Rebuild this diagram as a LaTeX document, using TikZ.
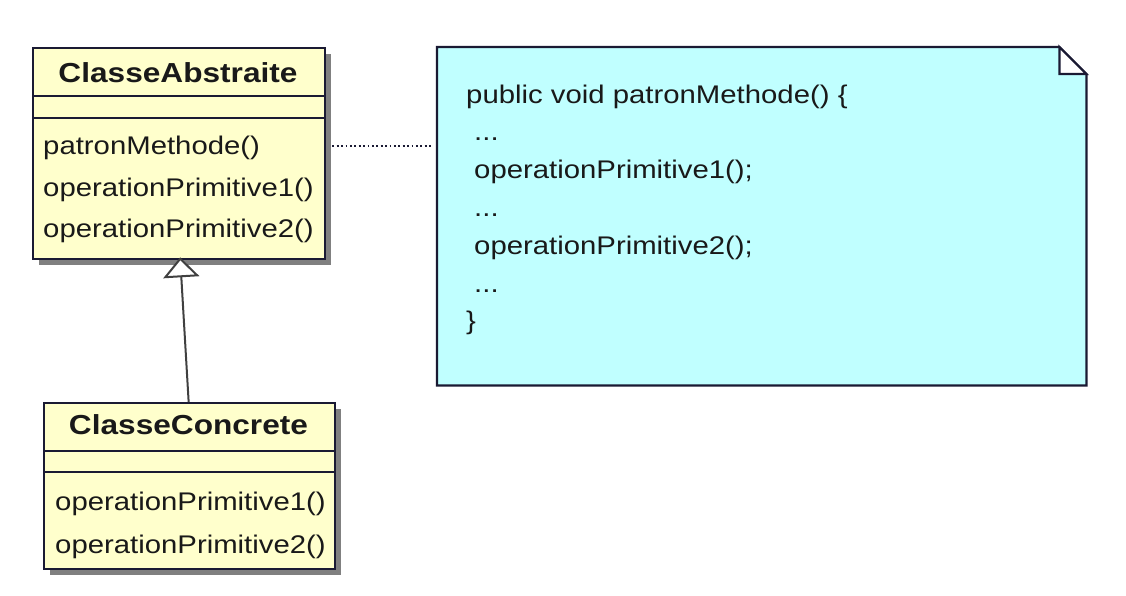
\documentclass[tikz,border=0pt]{standalone}
\usepackage{fontspec}
\setmainfont{Liberation Sans}[FakeStretch=1.15]
\usetikzlibrary{arrows.meta,shadows,calc}
\definecolor{classfill}{HTML}{FFFFCC}
\definecolor{notefill}{HTML}{C0FFFF}
\definecolor{edge}{HTML}{1A1A33}
\definecolor{shade}{HTML}{808080}
\tikzset{
  classbox/.style={draw=edge, line width=2.3pt, fill=classfill, anchor=north west, inner sep=0pt,
    drop shadow={shadow xshift=6pt, shadow yshift=-6pt, fill=shade, opacity=1}},
  divider/.style={draw=edge, line width=2.2pt},
  title/.style={anchor=base, inner sep=0pt, font=\fontsize{27.5}{30}\selectfont\bfseries, text=black!90},
  member/.style={anchor=base west, inner sep=0pt, font=\fontsize{25.5}{28}\selectfont, text=black!90},
  noteshape/.style={draw=edge, line width=2.2pt, fill=notefill},
  notelink/.style={draw=edge, line width=1.9pt, dash pattern=on 1.8pt off 2.6pt},
  genline/.style={draw=black!75, line width=2pt, -{Triangle[open, length=20pt, width=36pt, fill=white]}}
}
\begin{document}
\begin{tikzpicture}[x=1pt, y=-1pt]
\useasboundingbox (0,0) rectangle (1126,595);
% ClasseAbstraite
\node[classbox, minimum width=292pt, minimum height=211pt] (abs) at (32,47) {};
\draw[divider] (abs.west |- 0,96) -- (abs.east |- 0,96);
\draw[divider] (abs.west |- 0,118) -- (abs.east |- 0,118);
\node[title] (absT) at (178,82) {ClasseAbstraite};
\node[member] (absM1) at (43,154) {patronMethode()};
\node[member] (absM2) at (43,196) {operationPrimitive1()};
\node[member] (absM3) at (43,237) {operationPrimitive2()};
% ClasseConcrete
\node[classbox, minimum width=291pt, minimum height=166pt] (con) at (43,402) {};
\draw[divider] (con.west |- 0,451) -- (con.east |- 0,451);
\draw[divider] (con.west |- 0,472) -- (con.east |- 0,472);
\node[title] (conT) at (188.5,434) {ClasseConcrete};
\node[member] (conM1) at (55,510) {operationPrimitive1()};
\node[member] (conM2) at (55,553) {operationPrimitive2()};
% Note
\node[minimum width=649pt, minimum height=338pt, anchor=north west, inner sep=0pt] (note) at (437,47) {};
\draw[noteshape] (note.north west) -- ([xshift=-27pt]note.north east) -- ([yshift=-27pt]note.north east)
  -- (note.south east) -- (note.south west) -- cycle;
\draw[draw=edge, line width=2.2pt, fill=white] ([xshift=-27pt]note.north east) -- ([xshift=-27pt,yshift=-27pt]note.north east) -- ([yshift=-27pt]note.north east) -- cycle;
\node[member] (n1) at (466,103) {public void patronMethode() \{};
\node[member] (n2) at (474,140.8) {...};
\node[member] (n3) at (474,178.6) {operationPrimitive1();};
\node[member] (n4) at (474,216.4) {...};
\node[member] (n5) at (474,254.2) {operationPrimitive2();};
\node[member] (n6) at (474,292) {...};
\node[member] (n7) at (466,329.8) {\}};
% connectors
\coordinate (linky) at (0,146);
\draw[notelink] ([xshift=6pt]abs.east |- linky) -- ([xshift=-5pt]note.west |- linky);
\draw[genline] ([xshift=-1pt]con.north) -- ([xshift=1pt,yshift=3pt]abs.south);
\end{tikzpicture}
\end{document}
